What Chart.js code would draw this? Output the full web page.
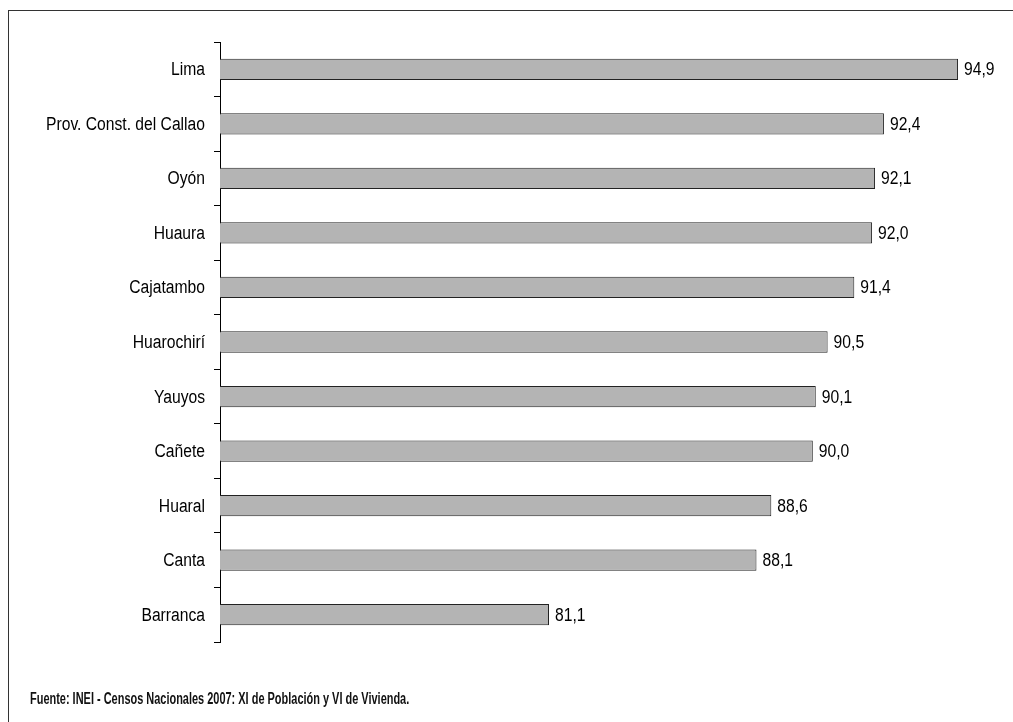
<!DOCTYPE html>
<html>
<head>
<meta charset="utf-8">
<script src="https://cdn.jsdelivr.net/npm/chart.js@4.4.0/dist/chart.umd.min.js"></script>
<style>
    html, body { margin: 0; padding: 0; background: #fff; overflow: hidden; }
    #wrap { position: relative; width: 1013px; height: 722px; overflow: hidden; }
    #frame { position: absolute; left: 8px; top: 10px; width: 1100px; height: 800px; border: 1px solid #333; }
    #chart { position: absolute; left: 0; top: 0; }
    #fuente {
        position: absolute; left: 30px; top: 690px;
        font-family: "Liberation Sans", Arial, sans-serif;
        font-size: 16px; font-weight: bold; color: #111; white-space: nowrap;
        transform: scaleX(0.685); transform-origin: left top;
    }
</style>
</head>
<body>
<div id="wrap">
    <div id="frame"></div>
    <canvas id="chart" width="1013" height="722"></canvas>
    <div id="fuente">Fuente: INEI - Censos Nacionales 2007: XI de Población y VI de Vivienda.</div>
</div>
<script>
// Provincias y valores (%)
const provincias = ['Lima', 'Prov. Const. del Callao', 'Oyón', 'Huaura', 'Cajatambo', 'Huarochirí',
    'Yauyos', 'Cañete', 'Huaral', 'Canta', 'Barranca'];
const valores = [94.9, 92.4, 92.1, 92.0, 91.4, 90.5, 90.1, 90.0, 88.6, 88.1, 81.1];
const ejeMin = 70;
const ejeMax = 95;

const fuenteTexto = '18px "Liberation Sans", Arial, sans-serif';
const estrecho = 0.87; // la fuente original es tipo Arial Narrow

// Texto "estrecho" dibujado en el canvas
function textoEstrecho(ctx, txt, x, y) {
    ctx.save();
    ctx.translate(x, y);
    ctx.scale(estrecho, 1);
    ctx.fillText(txt, 0, 0);
    ctx.restore();
}

// Nombres de provincias y valores al final de cada barra
const etiquetas = {
    id: 'etiquetas',
    afterDatasetsDraw(chart) {
        const ctx = chart.ctx;
        const meta = chart.getDatasetMeta(0);
        const yScale = chart.scales.y;
        ctx.save();
        ctx.font = fuenteTexto;
        ctx.fillStyle = '#000';
        ctx.textBaseline = 'middle';
        meta.data.forEach((bar, i) => {
            const yPos = yScale.getPixelForValue(i) + 1;
            ctx.textAlign = 'right';
            textoEstrecho(ctx, provincias[i], yScale.right - 15, yPos);
            ctx.textAlign = 'left';
            const txt = valores[i].toFixed(1).replace('.', ',');
            textoEstrecho(ctx, txt, bar.x + 6, yPos);
        });
        ctx.restore();
    }
};

const ctx = document.getElementById('chart').getContext('2d');
new Chart(ctx, {
    type: 'bar',
    data: {
        labels: provincias,
        datasets: [{
            data: valores,
            backgroundColor: '#b4b4b4',
            borderColor: '#222',
            borderWidth: 1,
            barPercentage: 0.39,
            categoryPercentage: 1
        }]
    },
    options: {
        indexAxis: 'y',
        responsive: false,
        animation: false,
        layout: { padding: { top: 42, bottom: 80, right: 52, left: 0 } },
        plugins: {
            legend: { display: false },
            tooltip: { enabled: false }
        },
        scales: {
            x: { display: false, min: ejeMin, max: ejeMax },
            y: {
                afterFit(scale) { scale.width = 220; },
                border: { display: true, color: '#000', width: 1 },
                grid: { display: true, drawOnChartArea: false, color: '#000', tickLength: 6, offset: true },
                ticks: { display: false }
            }
        }
    },
    plugins: [etiquetas]
});
</script>
</body>
</html>
